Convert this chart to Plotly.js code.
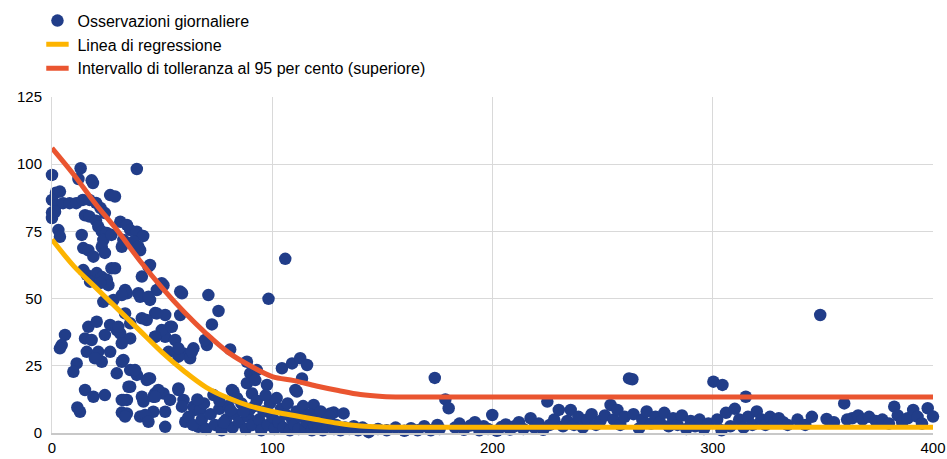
<!DOCTYPE html>
<html>
<head>
<meta charset="utf-8">
<script src="https://cdn.plot.ly/plotly-3.0.1.min.js"></script>
<style>html,body{margin:0;padding:0;background:#fff}#chart{width:947px;height:459px}</style>
</head>
<body>
<div id="chart"></div>
<script>
const obsX = [
0,13,12,18,18.6,1.8,3.6,26.4,28.6,0,0,0,2,5,8,11,14,17,20,22,24,15,17,20,1.4,2.9,3.6,31,21,22.6,24.9,23.3,27,13.5,14.2,22.6,16.5,18.8,24,14.2,15.8,20.3,22.6,27,24.9,25.6,17.3,21.8,
38.5,34,35.5,38.5,41.4,32.4,37,31.7,40,39.2,28.6,43.8,40.8,49.8,33.2,39.2,58.2,44.5,50.6,47.6,71,75.6,72.6,44.5,46.8,51.4,53.6,58.2,51.4,55.9,46.8,64.2,59.7,62.7,57.4,70.3,80.9,
44.5,46.8,50.6,57.4,53.6,59.7,64.2,73.3,81.7,88.5,90,93,97.6,88.5,90.8,98.3,105.9,104.4,109,112.7,115.8,113.5,110.5,118.8,127.9,132.4,
5.9,4.4,3.6,16.5,20.3,26.4,29.4,15,18,24,15.8,21,26.4,22.6,19.5,11.2,9.7,29.4,15,18.8,24,12.7,11.5,31.7,31.7,27.9,23.3,34,40,43,47.6,35.5,31,35.5,35.5,38.5,43,32.4,35.5,34,41.5,34,40,46,46,48.3,
31.7,43.8,59,33.2,40.8,30.1,49.8,54.4,31.7,46.8,52.9,57.4,63.5,69.5,31.7,37.7,43.8,34.7,32.4,40.8,46.8,57.4,33.2,42.3,51.4,51.4,59,65,66.5,60.5,43.8,
92.3,82.4,111.2,67.3,126.4,
62,64,68,70,72,74,76,77,79,80,82,83,85,86,88,89,90,91,93,94,95,96,98,99,100,101,102,103,104,105,106,107,108,109,110,111,112,113,114,115,116,117,118,119,120,121,122,123,124,125,126,128,129,131,133,135,137,139,141,76,84,92,87,97,78,81,69,66,
143.8,148,152,156,160,163,166,169,172,175,176,173.8,178.6,180.1,183,185,187,190,192,194,196,199.9,198,202,204,206,208,210,212,214,217.3,219,221,223,224.9,226,228,230.1,232,234,235.5,237,239,241,243,245,247,249,251,253.6,255,256.7,258,260,262,263.5,264,266.5,268,270,272,274,276,278,280,282,284,286,288,290,292,294,296,298,300.3,304.4,302,304,306,308,310,312,314,315,316,318,320,322,324,326,328,330,332,334,338.5,342,345,348.8,351.7,355,359.7,361,363.3,366,368,371,374,377,380,382.4,384,386,388.5,391,393,395,397.6,400
];
const obsY = [
96,98.5,94.5,94,93,89.4,89.8,88.5,88,86.7,82,80,84.8,85.5,85.5,85.5,86.7,86.7,85.6,83.7,81.8,81,80.5,79,82.3,75.5,73,78.6,76.8,75,74.4,71.8,73.7,73.7,68.8,69.3,68,65.6,67,60.6,58.8,59.5,58,61.3,57,55,56.3,55.8,
98.2,77.4,75.5,74.9,73.3,71.8,71.2,69.3,68,69.3,61.3,61.9,58.2,55.7,53.2,52,52.6,62.5,55,53.2,51.3,45.4,40.4,49.5,44.6,43.9,39.5,43.9,35.8,34.6,35.8,31.5,29.6,27.8,28.4,32.7,31.1,
20.3,14.7,14.7,16.6,12.3,12.3,9.8,14.1,16,26.5,22.2,23.4,17.9,18.5,14.7,49.9,64.8,24.1,25.9,27.8,25.3,20.3,16,10.4,7.6,7.3,
36.5,32.7,31.5,39.5,41.4,40.2,38.3,35.2,34.6,36.5,30.2,30.2,30.2,26.5,27.8,25.9,22.8,22.2,16,13.5,14.1,7.9,9.5,12.3,7.6,49.5,48.8,52,50.7,42,44.5,40.8,37,35.2,23.4,21.6,19.7,27.2,17.2,12.3,11.7,7.3,6.1,7.9,13.5,16,
51.3,50.7,52,44.5,42.7,39.5,38.3,39.5,33.4,35.8,30.2,31.5,30.2,34.6,26.5,23.4,20.3,17.2,12.3,13.5,13.5,16,6.1,6.7,7.9,2.3,9.8,8.6,2.3,4.2,4.2,
19.7,15.4,15.4,8.6,7.3,
6,3,5,1.5,7,3,9,1,5,10,2,7,4,11,1.5,6,9,3,12,5,1,8,3,11,6,1.5,13,4,9,2,7,11,1,5,3,8,1.5,6,10,2,4,7,1,3,5,2,8,1,4,2.5,6,1.5,3,1,2,1.5,2.5,1,2,12,13,10,8,14,4,8.5,11,12.5,
0.3,1.5,1,2,0.8,1.8,1,2.5,1,3,1.5,20.5,12.5,9.2,2,3.5,1.2,2.8,4,1,2.5,6.7,1.5,0.8,2.2,3.2,1.3,2.5,4,1.5,5.5,2,3.5,1.2,11.7,3,5,8.6,2.5,4.5,8.6,3,6,2,5,7,3,4.5,6.5,10.4,5,8.6,3,6,20.3,20,7,1.7,5,8,3.5,6,4,7.5,2.5,5.5,3,6.5,1.5,4.5,2.5,5,1.5,3.5,19.1,17.9,5,1,7.5,2.5,9,5,2,13.5,6,3,8,5,3,6,4,5.5,4,3,5,3,6,43.9,5.2,4,11,5,5.5,6.5,5,6,4.5,5,3.5,9.8,6.5,4,5.5,8.6,6,3.5,9.2,6.1
];
// Regression line
const regX = [0,10,20,30,40,50,60,70,80,90,100,110,120,130,140,150,160,200,300,400];
const regY = [72,62,54,46,38,30,23,17,13,10,8,6.5,5,3.6,2.6,2.2,2.1,2.1,2.1,2.1];
// Upper 95% tolerance interval
const tolX = [0,10,20,30,40,50,60,70,80,90,100,110,120,130,140,150,160,200,300,400];
const tolY = [106,96,85,75,64,54,45,37,30,25,21,19.5,17.5,15.8,14.3,13.6,13.4,13.4,13.4,13.4];

const names = ['Osservazioni giornaliere','Linea di regressione','Intervallo di tolleranza al 95 per cento (superiore)'];
const BLUE = '#213d89', YEL = '#fdb400', RED = '#ea5530';

const traces = [
  {x: obsX, y: obsY, type:'scatter', mode:'markers', name:names[0], legendgroup:'a',
   marker:{color:BLUE, size:12.5}, cliponaxis:false, hoverinfo:'x+y'},
  {x: regX, y: regY, type:'scatter', mode:'lines', name:names[1], showlegend:false,
   line:{color:YEL, width:5, shape:'spline', smoothing:1}},
  {x: tolX, y: tolY, type:'scatter', mode:'lines', name:names[2], showlegend:false,
   line:{color:RED, width:5, shape:'spline', smoothing:1}},
  {x:[null], y:[null], type:'scatter', mode:'markers', name:names[1], legendgroup:'b',
   marker:{symbol:'line-ew', size:16, color:YEL, line:{color:YEL, width:6}}},
  {x:[null], y:[null], type:'scatter', mode:'markers', name:names[2], legendgroup:'c',
   marker:{symbol:'line-ew', size:16, color:RED, line:{color:RED, width:6}}}
];

const layout = {
  width:947, height:459,
  margin:{l:52, r:14, t:97, b:26, pad:0},
  paper_bgcolor:'#fff', plot_bgcolor:'#fff',
  font:{family:'Arial, "Liberation Sans", sans-serif', size:15, color:'#000'},
  showlegend:true,
  legend:{x:-0.0165, xanchor:'left', yref:'container', y:0.992, yanchor:'top', orientation:'v',
    traceorder:'grouped', tracegroupgap:0, font:{size:16, color:'#000'},
    bgcolor:'rgba(0,0,0,0)', borderwidth:0, itemsizing:'trace'},
  xaxis:{range:[0,400], tickvals:[0,100,200,300,400], ticks:'', showgrid:true,
    gridcolor:'#d9d9d9', gridwidth:1, zeroline:false, showline:true, linecolor:'#c8c8c8', linewidth:1.5,
    tickfont:{size:15}, fixedrange:true},
  yaxis:{range:[0,125], tickvals:[0,25,50,75,100,125], ticks:'', showgrid:true,
    gridcolor:'#d9d9d9', gridwidth:1, zeroline:false, showline:true, linecolor:'#d9d9d9', linewidth:1,
    tickfont:{size:15}, ticklabelstandoff:6, fixedrange:true},
  hovermode:false
};

Plotly.newPlot('chart', traces, layout, {displayModeBar:false, staticPlot:true});
</script>
</body>
</html>
